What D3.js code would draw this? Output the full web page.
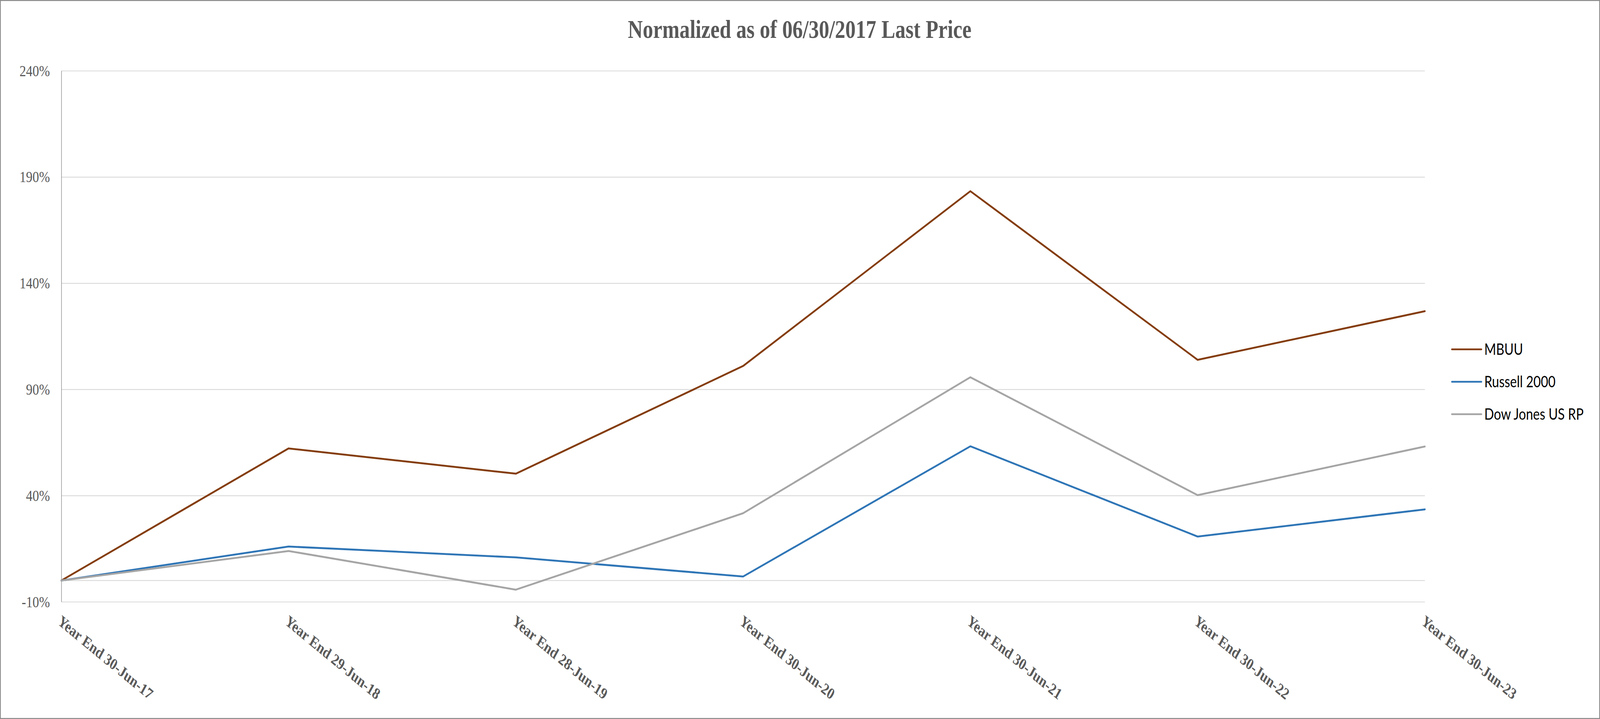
<!DOCTYPE html>
<html>
<head>
<meta charset="utf-8">
<script src="https://cdn.jsdelivr.net/npm/d3@7"></script>
<style>
  html, body { margin: 0; padding: 0; background: #fff; overflow: hidden; }
  svg { display: block; width: 100vw; height: 100vh; }
</style>
</head>
<body>
<svg viewBox="0 0 5034 1840" preserveAspectRatio="none"></svg>
<script>
const categories = [
  "Year End 30-Jun-17",
  "Year End 29-Jun-18",
  "Year End 28-Jun-19",
  "Year End 30-Jun-20",
  "Year End 30-Jun-21",
  "Year End 30-Jun-22",
  "Year End 30-Jun-23"
];
const mbuu = [0, 62.2, 50.3, 101.0, 183.3, 103.9, 126.8];
const russell = [0, 16.0, 10.9, 1.9, 63.2, 20.7, 33.5];
const dowJones = [0, 13.9, -4.3, 31.7, 95.7, 40.2, 63.1];
const yTicks = [-10, 40, 90, 140, 190, 240];

const series = [
  { name: "MBUU", values: mbuu, color: "#843c0c" },
  { name: "Russell 2000", values: russell, color: "#2e75b6" },
  { name: "Dow Jones US RP", values: dowJones, color: "#a5a5a5" }
];

const svg = d3.select("svg");
const W = 5034, H = 1840;
const plotLeft = 193, plotRight = 4483, plotTop = 181, plotBottom = 1540;

// chart border
svg.append("rect")
  .attr("x", 1.25).attr("y", 1.25)
  .attr("width", W - 2.5).attr("height", H - 2.5)
  .attr("fill", "#fff")
  .attr("stroke", "#898989")
  .attr("stroke-width", 2.5);

const x = d3.scalePoint().domain(categories).range([plotLeft, plotRight]);
const y = d3.scaleLinear().domain([-10, 240]).range([plotBottom, plotTop]);

// gridlines
const grid = svg.append("g")
  .attr("transform", `translate(${plotLeft},0)`)
  .call(d3.axisLeft(y).tickValues(yTicks).tickSize(-(plotRight - plotLeft)).tickFormat(""));
grid.select(".domain").remove();
grid.selectAll(".tick line").attr("stroke", "#d9d9d9").attr("stroke-width", 2.2);

// horizontal category axis line at 0%
svg.append("line")
  .attr("x1", plotLeft).attr("x2", plotRight)
  .attr("y1", y(0)).attr("y2", y(0))
  .attr("stroke", "#d9d9d9").attr("stroke-width", 2.2);

// y axis
const yAxis = svg.append("g")
  .attr("transform", `translate(${plotLeft},0)`)
  .call(d3.axisLeft(y).tickValues(yTicks).tickSize(0).tickPadding(36).tickFormat((d) => d + "%"));
yAxis.select(".domain").attr("stroke", "#868686").attr("stroke-width", 1.6);
yAxis.selectAll("text")
  .attr("fill", "#595959")
  .style("font-family", "'Liberation Serif', 'Times New Roman', serif")
  .style("font-size", "41px");

// x axis labels
const xAxis = svg.append("g")
  .attr("transform", `translate(0,${plotBottom})`)
  .call(d3.axisBottom(x).tickSize(0));
xAxis.select(".domain").remove();
xAxis.selectAll("text")
  .attr("fill", "#595959")
  .attr("text-anchor", "start")
  .attr("dy", 0)
  .attr("y", 0)
  .attr("transform", "translate(-14,56) rotate(34)")
  .style("font-family", "'Liberation Serif', 'Times New Roman', serif")
  .style("font-weight", "bold")
  .style("font-size", "41px");

// lines
const line = d3.line()
  .x((d, i) => x(categories[i]))
  .y((d) => y(d));

svg.append("g")
  .selectAll("path")
  .data(series)
  .enter()
  .append("path")
  .attr("d", (d) => line(d.values))
  .attr("fill", "none")
  .attr("stroke", (d) => d.color)
  .attr("stroke-width", 4.8)
  .attr("stroke-linejoin", "round")
  .attr("stroke-linecap", "round");

// title
svg.append("text")
  .attr("x", 2516)
  .attr("y", 97)
  .attr("text-anchor", "middle")
  .attr("fill", "#595959")
  .style("font-family", "'Liberation Serif', 'Times New Roman', serif")
  .style("font-weight", "bold")
  .style("font-size", "65px")
  .text("Normalized as of 06/30/2017 Last Price");

// legend
const legend = svg.append("g")
  .selectAll("g")
  .data(series)
  .enter()
  .append("g")
  .attr("transform", (d, i) => `translate(4568,${894 + i * 83})`);

legend.append("line")
  .attr("x1", 0).attr("x2", 93)
  .attr("stroke", (d) => d.color)
  .attr("stroke-width", 4.7)
  .attr("stroke-linecap", "round");

legend.append("text")
  .attr("x", 102)
  .attr("dy", "0.36em")
  .attr("fill", "#000")
  .style("font-family", "Lato, 'Noto Sans', sans-serif")
  .style("font-size", "40px")
  .text((d) => d.name);
</script>
</body>
</html>
